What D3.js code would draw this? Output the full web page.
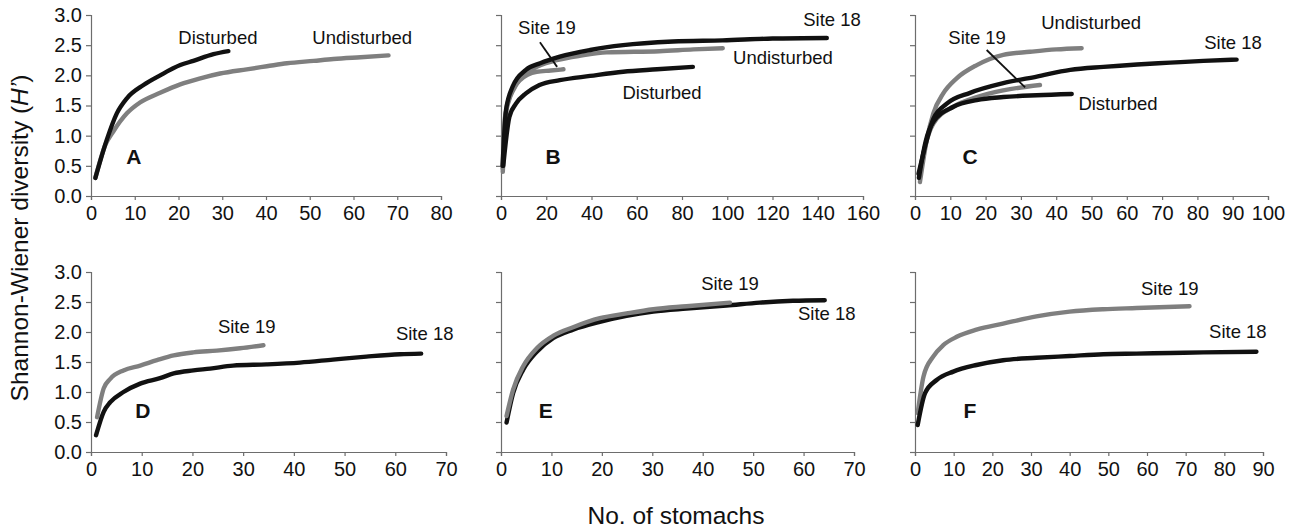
<!DOCTYPE html>
<html><head><meta charset="utf-8">
<script src="https://cdn.jsdelivr.net/npm/d3@7"></script>
<style>
body{margin:0;background:#fff;}
svg{display:block;font-family:"Liberation Sans",Arial,sans-serif;}
</style></head>
<body><svg id="c" width="1299" height="530"></svg>
<script>
// ---------- data ----------
const yTicks = [0, 0.5, 1.0, 1.5, 2.0, 2.5, 3.0];
const xTicksA = [0,10,20,30,40,50,60,70,80];
const xTicksB = [0,20,40,60,80,100,120,140,160];
const xTicksC = [0,10,20,30,40,50,60,70,80,90,100];
const xTicksD = [0,10,20,30,40,50,60,70];
const xTicksE = [0,10,20,30,40,50,60,70];
const xTicksF = [0,10,20,30,40,50,60,70,80,90];

// Panel A
const aDisturbedX   = [1, 3.6, 5.9, 8.2, 12, 15.8, 20.4, 23.4, 28, 31.4];
const aDisturbedY   = [0.3, 0.93, 1.37, 1.62, 1.84, 2.0, 2.17, 2.24, 2.35, 2.40];
const aUndisturbedX = [1, 3.3, 5.1, 8.2, 11.2, 15.8, 20.4, 25, 29.5, 35.6, 40.2, 44.8, 50.9, 55.4, 61.6, 68];
const aUndisturbedY = [0.3, 0.85, 1.07, 1.37, 1.55, 1.71, 1.85, 1.95, 2.03, 2.10, 2.15, 2.20, 2.24, 2.27, 2.30, 2.33];
// Panel B
const bSite18X = [0.7, 2.2, 5.1, 11, 17.3, 26, 39.4, 54, 76, 98, 120, 144];
const bSite18Y = [0.5, 1.42, 1.81, 2.09, 2.2, 2.31, 2.42, 2.50, 2.56, 2.58, 2.61, 2.62];
const bUndistX = [0.8, 1.8, 7, 14.3, 24.6, 36, 46.7, 70, 85, 98];
const bUndistY = [0.45, 1.31, 1.86, 2.11, 2.25, 2.33, 2.38, 2.40, 2.43, 2.45];
const bSite19X = [0.8, 2.5, 8.4, 15.8, 22, 27.6];
const bSite19Y = [0.4, 1.48, 1.92, 2.06, 2.08, 2.10];
const bDistX   = [1, 3.7, 6.6, 11, 17, 26, 39.4, 54, 69, 84.8];
const bDistY   = [0.5, 1.31, 1.53, 1.70, 1.84, 1.92, 1.99, 2.06, 2.10, 2.14];
// Panel C
const cUndistX = [1.4, 3.3, 5.2, 8, 11.8, 17.5, 25, 32.6, 40, 47.2];
const cUndistY = [0.23, 0.92, 1.37, 1.70, 1.95, 2.17, 2.34, 2.39, 2.43, 2.45];
const cSite18X = [1, 3.3, 5.2, 9, 15.6, 25, 34.5, 44, 53.4, 62.9, 72.3, 81.7, 91.1];
const cSite18Y = [0.37, 0.92, 1.28, 1.53, 1.71, 1.87, 1.98, 2.09, 2.14, 2.18, 2.21, 2.24, 2.26];
const cSite19X = [1.2, 3, 5.2, 10.9, 17.5, 25, 35.4];
const cSite19Y = [0.3, 0.85, 1.2, 1.48, 1.64, 1.75, 1.84];
const cDistX   = [1.1, 3, 5.2, 10.9, 17.5, 25, 34.5, 44.4];
const cDistY   = [0.3, 0.9, 1.23, 1.48, 1.59, 1.64, 1.67, 1.69];
// Panel D
const dSite19X = [1.2, 2.5, 3.8, 6.4, 9.7, 13, 16.3, 20.2, 24.8, 29.4, 34];
const dSite19Y = [0.58, 1.06, 1.22, 1.36, 1.44, 1.53, 1.61, 1.66, 1.69, 1.73, 1.78];
const dSite18X = [1, 2.5, 3.8, 6.4, 9.7, 13.6, 16.3, 20.2, 23.5, 28, 34.6, 41.2, 47.7, 54.3, 60.9, 65.1];
const dSite18Y = [0.28, 0.67, 0.83, 1.0, 1.14, 1.23, 1.31, 1.36, 1.39, 1.44, 1.46, 1.49, 1.54, 1.59, 1.63, 1.64];
// Panel E
const eSite18X = [1.1, 2.4, 4.4, 7.1, 10.4, 14.3, 19.6, 24.9, 30.2, 36.8, 44.7, 51.3, 57.9, 64.2];
const eSite18Y = [0.49, 0.98, 1.37, 1.67, 1.90, 2.04, 2.17, 2.27, 2.34, 2.39, 2.44, 2.49, 2.52, 2.53];
const eSite19X = [1.1, 2.4, 4.4, 7.1, 10.4, 14.3, 19.6, 24.9, 30.2, 36.8, 45.4];
const eSite19Y = [0.6, 1.04, 1.43, 1.73, 1.94, 2.08, 2.23, 2.31, 2.38, 2.43, 2.49];
// Panel F
const fSite19X = [0.7, 2.2, 4.7, 7.3, 10.8, 15.9, 22.8, 31.4, 40, 48.7, 57.3, 71];
const fSite19Y = [0.65, 1.26, 1.59, 1.78, 1.92, 2.04, 2.14, 2.26, 2.34, 2.38, 2.40, 2.43];
const fSite18X = [0.7, 2.6, 5.6, 9.9, 15.9, 22.8, 31.4, 40, 48.7, 57.3, 66, 74.6, 88.3];
const fSite18Y = [0.45, 0.98, 1.2, 1.34, 1.45, 1.53, 1.57, 1.60, 1.63, 1.64, 1.65, 1.66, 1.67];

// ---------- layout ----------
const BLACK = "#111", GRAY = "#7f7f7f";
const zip = (xs, ys) => xs.map((x, i) => [x, ys[i]]);

const panels = [
  {letter:"A", x0:91, x1:441, y0:196, y1:15, xmax:80, ticks:xTicksA, yLabels:true, letterPos:[9.8,0.65],
   series:[[zip(aUndisturbedX,aUndisturbedY),GRAY],[zip(aDisturbedX,aDisturbedY),BLACK]],
   labels:[["Disturbed",29,2.62],["Undisturbed",62,2.62]], pointer:null},
  {letter:"B", x0:501, x1:863, y0:196, y1:15, xmax:160, ticks:xTicksB, yLabels:false, letterPos:[23,0.65],
   series:[[zip(bUndistX,bUndistY),GRAY],[zip(bSite19X,bSite19Y),GRAY],[zip(bDistX,bDistY),BLACK],[zip(bSite18X,bSite18Y),BLACK]],
   labels:[["Site 19",20.3,2.80],["Site 18",146.3,2.92],["Undisturbed",124.6,2.29],["Disturbed",71.2,1.72]],
   pointer:[[17.2,2.55],[24.8,2.14]]},
  {letter:"C", x0:915, x1:1268, y0:196, y1:15, xmax:100, ticks:xTicksC, yLabels:false, letterPos:[15.6,0.65],
   series:[[zip(cUndistX,cUndistY),GRAY],[zip(cSite19X,cSite19Y),GRAY],[zip(cDistX,cDistY),BLACK],[zip(cSite18X,cSite18Y),BLACK]],
   labels:[["Undisturbed",49.9,2.87],["Site 19",17.6,2.62],["Site 18",90.1,2.55],["Disturbed",57.5,1.54]],
   pointer:[[20.3,2.42],[31.2,1.80]]},
  {letter:"D", x0:91, x1:446, y0:452, y1:272, xmax:70, ticks:xTicksD, yLabels:true, letterPos:[10.2,0.70],
   series:[[zip(dSite19X,dSite19Y),GRAY],[zip(dSite18X,dSite18Y),BLACK]],
   labels:[["Site 19",30.7,2.09],["Site 18",65.8,1.97]], pointer:null},
  {letter:"E", x0:501, x1:854, y0:452, y1:272, xmax:70, ticks:xTicksE, yLabels:false, letterPos:[8.9,0.70],
   series:[[zip(eSite18X,eSite18Y),BLACK],[zip(eSite19X,eSite19Y),GRAY]],
   labels:[["Site 19",45.4,2.80],["Site 18",64.6,2.30]], pointer:null},
  {letter:"F", x0:915, x1:1263, y0:452, y1:272, xmax:90, ticks:xTicksF, yLabels:false, letterPos:[14.2,0.70],
   series:[[zip(fSite19X,fSite19Y),GRAY],[zip(fSite18X,fSite18Y),BLACK]],
   labels:[["Site 19",65.9,2.73],["Site 18",83.5,2.0]], pointer:null}
];

const svg = d3.select("#c");

panels.forEach(p => {
  const x = d3.scaleLinear().domain([0, p.xmax]).range([p.x0, p.x1]);
  const y = d3.scaleLinear().domain([0, 3]).range([p.y0, p.y1]);
  const g = svg.append("g");

  const xa = g.append("g").attr("transform", `translate(0,${p.y0})`)
    .call(d3.axisBottom(x).tickValues(p.ticks).tickSize(4).tickPadding(6).tickFormat(d3.format("d")));
  const ya = g.append("g").attr("transform", `translate(${p.x0},0)`)
    .call(d3.axisLeft(y).tickValues(yTicks).tickSize(5).tickPadding(4)
      .tickFormat(p.yLabels ? d3.format(".1f") : ""));
  [xa, ya].forEach(a => {
    a.select(".domain").attr("stroke", "#6d6d6d").attr("stroke-width", 1.2);
    a.selectAll(".tick line").attr("stroke", "#6d6d6d").attr("stroke-width", 1.2);
    a.selectAll(".tick text").attr("fill", "#111").style("font-size", "20px")
      .style("font-family", "'Liberation Sans', Arial, sans-serif");
  });

  const line = d3.line().x(d => x(d[0])).y(d => y(d[1])).curve(d3.curveMonotoneX);
  p.series.forEach(([pts, col]) => {
    g.append("path").datum(pts).attr("d", line).attr("fill", "none")
      .attr("stroke", col).attr("stroke-width", 4.4)
      .attr("stroke-linecap", "round").attr("stroke-linejoin", "round");
  });

  if (p.pointer) {
    g.append("line")
      .attr("x1", x(p.pointer[0][0])).attr("y1", y(p.pointer[0][1]))
      .attr("x2", x(p.pointer[1][0])).attr("y2", y(p.pointer[1][1]))
      .attr("stroke", "#111").attr("stroke-width", 1.8);
  }

  p.labels.forEach(([t, lx, ly]) => {
    g.append("text").attr("x", x(lx)).attr("y", y(ly)).attr("dy", "0.35em")
      .attr("text-anchor", "middle").attr("fill", "#111")
      .style("font-size", "18.5px").text(t);
  });

  g.append("text").attr("x", x(p.letterPos[0])).attr("y", y(p.letterPos[1])).attr("dy", "0.36em")
    .attr("text-anchor", "middle").attr("fill", "#111")
    .style("font-size", "21px").style("font-weight", "bold").text(p.letter);
});

// axis titles
const yt = svg.append("text").attr("transform", "translate(28,238) rotate(-90)")
  .attr("text-anchor", "middle").attr("fill", "#111").style("font-size", "24.5px");
yt.append("tspan").text("Shannon-Wiener diversity (");
yt.append("tspan").style("font-style", "italic").text("H’");
yt.append("tspan").text(")");

svg.append("text").attr("x", 676).attr("y", 524).attr("text-anchor", "middle")
  .attr("fill", "#111").style("font-size", "24.5px").text("No. of stomachs");
</script>
</body></html>
